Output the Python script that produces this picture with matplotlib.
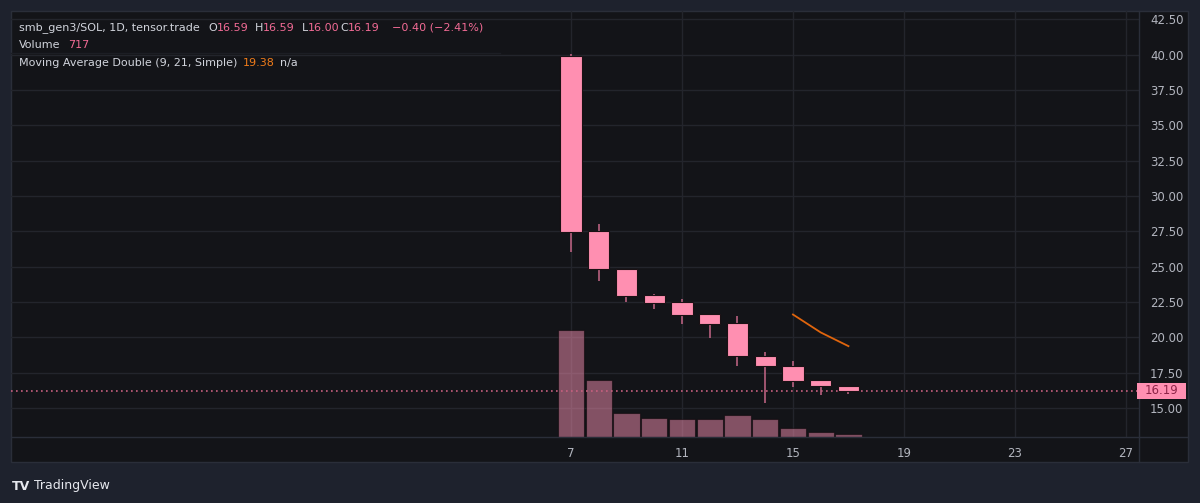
import matplotlib
matplotlib.use('Agg')
import matplotlib.pyplot as plt
from matplotlib.patches import Rectangle
import numpy as np

# daily candles, days 7..17
days = [7, 8, 9, 10, 11, 12, 13, 14, 15, 16, 17]
opens = [39.93, 27.52, 24.87, 22.98, 22.47, 21.64, 21.00, 18.70, 17.99, 17.00, 16.59]
highs = [40.05, 28.00, 24.87, 23.10, 22.70, 21.64, 21.52, 18.98, 18.34, 17.00, 16.59]
lows = [26.04, 24.00, 22.47, 22.02, 20.93, 19.97, 17.94, 15.38, 16.48, 15.94, 16.00]
closes = [27.45, 24.82, 22.94, 22.41, 21.59, 20.93, 18.65, 17.94, 16.93, 16.53, 16.19]
volumes = [28600, 15360, 6510, 5170, 4720, 4900, 5790, 4820, 2300, 1420, 717]

ma_days = [15, 16, 17]
ma_vals = [21.62, 20.35, 19.38]

price_ticks = [15.0, 17.5, 20.0, 22.5, 25.0, 27.5, 30.0, 32.5, 35.0, 37.5, 40.0, 42.5]
time_ticks = [7, 11, 15, 19, 23, 27]
last_price = 16.19

W, H = 1200, 503
outer_bg = '#1e222d'
panel_bg = '#131418'
border = '#2a2e39'
grid_c = '#23252c'
text_c = '#b2b5be'
pink = '#ff8fb1'
wick_c = '#b8607f'
vol_c = '#f48fb1'

fig = plt.figure(figsize=(W / 100, H / 100), dpi=100, facecolor=outer_bg)

def fx(px):
    return px / W

def fy(py):
    return 1 - py / H

# chart panel
fig.patches.append(Rectangle((fx(11), fy(462)), fx(1188 - 11), (462 - 11) / H,
                             transform=fig.transFigure, facecolor=panel_bg,
                             edgecolor=border, lw=1, zorder=-5))

rect = [fx(11), fy(437), fx(1139 - 11), (437 - 11) / H]
ymin, ymax = 12.95, 43.1
xmin, xmax = -13.18, 27.47

# grid layer (behind volume)
axg = fig.add_axes(rect)
axg.set_zorder(0)
axg.patch.set_alpha(0)
axg.set_xlim(xmin, xmax)
axg.set_ylim(ymin, ymax)
for t in price_ticks:
    axg.axhline(t, color=grid_c, lw=1)
for t in time_ticks:
    axg.axvline(t, color=grid_c, lw=1)
axg.set_xticks([])
axg.set_yticks([])
for s in axg.spines.values():
    s.set_visible(False)

# volume layer
axv = fig.add_axes(rect)
axv.set_zorder(1)
axv.patch.set_alpha(0)
axv.set_xlim(xmin, xmax)
axv.set_ylim(0, 28600 * 426 / 106.7)
axv.bar(days, volumes, width=0.94, color=vol_c, alpha=0.5, edgecolor='#000000', lw=0.8)
axv.axis('off')

# price layer
ax = fig.add_axes(rect)
ax.set_zorder(2)
ax.patch.set_alpha(0)
ax.set_xlim(xmin, xmax)
ax.set_ylim(ymin, ymax)

ax.axhline(last_price, color='#c7607f', lw=1.2, ls=(0, (1, 2)), zorder=2)

for d, o, h, l, c in zip(days, opens, highs, lows, closes):
    ax.vlines(d, l, h, color=wick_c, lw=1.2, zorder=3)
    lo, hi = min(o, c), max(o, c)
    ax.add_patch(Rectangle((d - 0.38, lo), 0.76, hi - lo, facecolor=pink,
                           edgecolor='#1a1114', lw=0.8, zorder=4))

ax.plot(ma_days, ma_vals, color='#e0650d', lw=1.3, zorder=5)

ax.yaxis.tick_right()
ax.set_yticks(price_ticks)
ax.set_yticklabels(['%.2f' % t for t in price_ticks])
ax.set_xticks(time_ticks)
ax.set_xticklabels([str(t) for t in time_ticks])
ax.tick_params(axis='y', length=0, pad=8, labelsize=8.5, labelcolor=text_c)
ax.tick_params(axis='x', length=0, pad=7, labelsize=8.5, labelcolor=text_c)
for s in ax.spines.values():
    s.set_visible(False)

# axis dividers
fig.add_artist(plt.Line2D([fx(11), fx(1188)], [fy(437), fy(437)], color=border, lw=1))
fig.add_artist(plt.Line2D([fx(1139), fx(1139)], [fy(11), fy(462)], color=border, lw=1))

# last price label
fig.patches.append(Rectangle((fx(1137), fy(399)), fx(49), 16 / H, transform=fig.transFigure,
                             facecolor=pink, edgecolor='none', zorder=5))
fig.text(fx(1162), fy(391), '16.19', color='#8e2448', fontsize=8.5, ha='center', va='center', zorder=6)

# header legend
hc = '#d1d4dc'
vc = '#f26b95'
fs = 8.0
fig.text(fx(19), fy(28), 'smb_gen3/SOL, 1D, tensor.trade', color=hc, fontsize=fs, va='center')
for x, lab, vx, val in [(208, 'O', 217, '16.59'), (255, 'H', 263, '16.59'),
                        (302, 'L', 308, '16.00'), (340, 'C', 348, '16.19')]:
    fig.text(fx(x), fy(28), lab, color=hc, fontsize=fs, va='center')
    fig.text(fx(vx), fy(28), val, color=vc, fontsize=fs, va='center')
fig.text(fx(392), fy(28), '\u22120.40 (\u22122.41%)', color=vc, fontsize=fs, va='center')
fig.text(fx(19), fy(45), 'Volume', color=hc, fontsize=fs, va='center')
fig.text(fx(68), fy(45), '717', color=vc, fontsize=fs, va='center')
fig.add_artist(plt.Line2D([fx(11), fx(500)], [fy(53), fy(53)], color='#1c1e24', lw=1))
fig.text(fx(19), fy(63), 'Moving Average Double (9, 21, Simple)', color=hc, fontsize=fs, va='center')
fig.text(fx(243), fy(63), '19.38', color='#f07c1a', fontsize=fs, va='center')
fig.text(fx(280), fy(63), 'n/a', color=hc, fontsize=fs, va='center')

# footer logo
fig.text(fx(12), fy(486), 'TV', color='#e6e8ee', fontsize=9, fontweight='bold', va='center')
fig.text(fx(34), fy(486), 'TradingView', color='#e6e8ee', fontsize=9, va='center')

fig.savefig('out.png', dpi=100, facecolor=outer_bg)
